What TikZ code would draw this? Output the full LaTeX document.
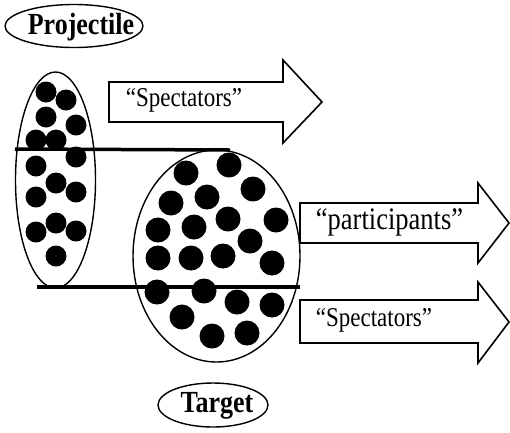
\documentclass[tikz,border=0pt]{standalone}
\usepackage{fontspec}
\usepackage{graphicx}
\setmainfont{Liberation Serif}
\newcommand{\tallt}[1]{\scalebox{1}[1.18]{#1}}
\begin{document}
\begin{tikzpicture}[x=1pt,y=-1pt,
  ell/.style={draw=black,line width=1.4pt},
  dot/.style={fill=black},
  bar/.style={line width=3.5pt},
  bigarrow/.style={draw=black,line width=1.6pt,fill=white,line join=miter},
  lbl/.style={inner sep=0pt,font=\fontsize{23}{23}\selectfont},
  title/.style={inner sep=0pt,font=\bfseries\fontsize{26}{26}\selectfont}]
\useasboundingbox (0,0) rectangle (510,432);
% label ellipses
\draw[ell] (74,26) ellipse[x radius=69pt,y radius=21.5pt];
\node[title] (proj) at (81,27) {\tallt{Projectile}};
\draw[ell] (213,405) ellipse[x radius=55pt,y radius=22pt];
\node[title] (targ) at (217,406) {\tallt{Target}};
% nucleus ellipses
\draw[ell] (55.5,180) ellipse[x radius=40pt,y radius=108pt];
\draw[ell] (216.5,256) ellipse[x radius=83.5pt,y radius=106pt];
% projectile nucleons
\foreach \p in {(46,92),(66,100),(46,117),(76,125),(36,140),(56,140),(76,157),(36,166),(56,183),(76,192),(36,197),(56,223),(36,232),(76,231),(56,256)}
  \fill[dot] \p circle[radius=10.5pt];
% target nucleons
\foreach \p in {(229,165),(186,173),(253,189),(207,197),(171,203),(228,219),(276,220),(194,227),(158,230),(250,241),(223,256),(191,258),(158,258),(272,263),(157,292),(204,291),(237,302),(272,305),(182,317),(212,336),(247,333)}
  \fill[dot] \p circle[radius=12.5pt];
% horizontal cuts
\coordinate (t1) at (15,149);
\coordinate (t2) at (230,150);
\coordinate (b1) at (37,287);
\coordinate (b2) at (300,287);
\draw[bar] (t1) -- (t2);
\draw[bar] (b1) -- (b2);
% arrows
\draw[bigarrow] (109,82) -- (283,82) -- (283,60) -- (322,102) -- (283,143) -- (283,122) -- (109,122) -- cycle;
\node[lbl] (s1) at (184,100) {\tallt{“Spectators”}};
\draw[bigarrow] (300,203) -- (478,203) -- (478,183) -- (509,223) -- (478,263) -- (478,243) -- (300,243) -- cycle;
\node[lbl,font=\fontsize{26.5}{26.5}\selectfont] (part) at (389.5,222) {\tallt{“participants”}};
\draw[bigarrow] (300,300) -- (478,300) -- (478,282) -- (509,322) -- (478,363) -- (478,343) -- (300,343) -- cycle;
\node[lbl] (s2) at (374,320) {\tallt{“Spectators”}};
\end{tikzpicture}
\end{document}
